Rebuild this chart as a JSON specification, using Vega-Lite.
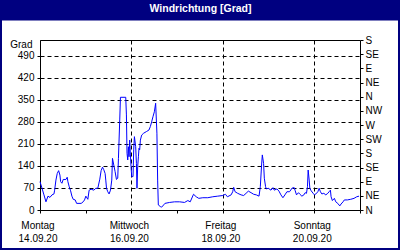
{
  "$schema": "https://vega.github.io/schema/vega-lite/v6.json",
  "background": "#000080",
  "autosize": {"type": "none"},
  "padding": {"left": 40, "top": 40, "right": 40, "bottom": 40},
  "width": 320,
  "height": 170,
  "config": {
    "font": "Liberation Sans",
    "axis": {
      "labelFont": "Liberation Sans",
      "labelFontSize": 10,
      "labelColor": "black",
      "tickColor": "black",
      "tickSize": 3,
      "domain": true,
      "domainColor": "black",
      "domainWidth": 1,
      "gridColor": "black",
      "gridDash": [4, 3],
      "gridOpacity": 1,
      "gridWidth": 1
    },
    "view": {"fill": "white", "stroke": "white", "strokeWidth": 76}
  },
  "data": {"values": [
    {"t": "2020-09-14T00:00", "v": 90},
    {"t": "2020-09-14T01:03", "v": 69},
    {"t": "2020-09-14T02:05", "v": 48},
    {"t": "2020-09-14T03:08", "v": 26},
    {"t": "2020-09-14T04:11", "v": 44},
    {"t": "2020-09-14T05:14", "v": 40},
    {"t": "2020-09-14T06:17", "v": 48},
    {"t": "2020-09-14T07:20", "v": 51},
    {"t": "2020-09-14T07:41", "v": 63},
    {"t": "2020-09-14T08:22", "v": 95},
    {"t": "2020-09-14T09:03", "v": 116},
    {"t": "2020-09-14T09:47", "v": 125},
    {"t": "2020-09-14T10:28", "v": 111},
    {"t": "2020-09-14T10:50", "v": 90},
    {"t": "2020-09-14T11:31", "v": 85},
    {"t": "2020-09-14T12:11", "v": 97},
    {"t": "2020-09-14T13:37", "v": 97},
    {"t": "2020-09-14T14:17", "v": 104},
    {"t": "2020-09-14T14:39", "v": 90},
    {"t": "2020-09-14T15:20", "v": 74},
    {"t": "2020-09-14T16:04", "v": 61},
    {"t": "2020-09-14T16:45", "v": 44},
    {"t": "2020-09-14T17:26", "v": 34},
    {"t": "2020-09-14T18:28", "v": 32},
    {"t": "2020-09-14T19:13", "v": 21},
    {"t": "2020-09-14T21:37", "v": 21},
    {"t": "2020-09-14T22:40", "v": 26},
    {"t": "2020-09-14T23:23", "v": 32},
    {"t": "2020-09-15T00:04", "v": 44},
    {"t": "2020-09-15T01:07", "v": 34},
    {"t": "2020-09-15T01:48", "v": 63},
    {"t": "2020-09-15T02:51", "v": 66},
    {"t": "2020-09-15T04:16", "v": 63},
    {"t": "2020-09-15T05:19", "v": 69},
    {"t": "2020-09-15T06:21", "v": 69},
    {"t": "2020-09-15T07:24", "v": 98},
    {"t": "2020-09-15T08:05", "v": 125},
    {"t": "2020-09-15T08:49", "v": 136},
    {"t": "2020-09-15T09:29", "v": 128},
    {"t": "2020-09-15T10:11", "v": 116},
    {"t": "2020-09-15T10:32", "v": 95},
    {"t": "2020-09-15T10:55", "v": 69},
    {"t": "2020-09-15T11:35", "v": 58},
    {"t": "2020-09-15T12:16", "v": 51},
    {"t": "2020-09-15T13:00", "v": 63},
    {"t": "2020-09-15T13:41", "v": 95},
    {"t": "2020-09-15T14:03", "v": 164},
    {"t": "2020-09-15T14:44", "v": 143},
    {"t": "2020-09-15T15:25", "v": 122},
    {"t": "2020-09-15T16:08", "v": 97},
    {"t": "2020-09-15T16:49", "v": 101},
    {"t": "2020-09-15T17:11", "v": 164},
    {"t": "2020-09-15T17:52", "v": 286},
    {"t": "2020-09-15T18:14", "v": 358},
    {"t": "2020-09-15T21:01", "v": 358},
    {"t": "2020-09-15T21:22", "v": 302},
    {"t": "2020-09-15T21:41", "v": 180},
    {"t": "2020-09-15T22:04", "v": 159},
    {"t": "2020-09-15T22:25", "v": 201},
    {"t": "2020-09-15T22:44", "v": 169},
    {"t": "2020-09-15T23:06", "v": 222},
    {"t": "2020-09-15T23:28", "v": 175},
    {"t": "2020-09-15T23:47", "v": 138},
    {"t": "2020-09-16T00:09", "v": 106},
    {"t": "2020-09-16T00:50", "v": 106},
    {"t": "2020-09-16T01:12", "v": 191},
    {"t": "2020-09-16T01:34", "v": 233},
    {"t": "2020-09-16T02:14", "v": 201},
    {"t": "2020-09-16T02:37", "v": 148},
    {"t": "2020-09-16T02:55", "v": 69},
    {"t": "2020-09-16T03:17", "v": 138},
    {"t": "2020-09-16T03:40", "v": 169},
    {"t": "2020-09-16T03:58", "v": 196},
    {"t": "2020-09-16T04:20", "v": 191},
    {"t": "2020-09-16T04:42", "v": 222},
    {"t": "2020-09-16T05:23", "v": 238},
    {"t": "2020-09-16T06:26", "v": 244},
    {"t": "2020-09-16T07:50", "v": 249},
    {"t": "2020-09-16T09:12", "v": 254},
    {"t": "2020-09-16T09:56", "v": 265},
    {"t": "2020-09-16T10:37", "v": 280},
    {"t": "2020-09-16T11:18", "v": 296},
    {"t": "2020-09-16T12:02", "v": 312},
    {"t": "2020-09-16T12:43", "v": 339},
    {"t": "2020-09-16T13:23", "v": 244},
    {"t": "2020-09-16T13:46", "v": 95},
    {"t": "2020-09-16T14:07", "v": 16},
    {"t": "2020-09-16T15:10", "v": 11},
    {"t": "2020-09-16T15:51", "v": 9},
    {"t": "2020-09-16T16:54", "v": 16},
    {"t": "2020-09-16T17:35", "v": 21},
    {"t": "2020-09-16T20:02", "v": 24},
    {"t": "2020-09-16T22:39", "v": 26},
    {"t": "2020-09-17T01:16", "v": 26},
    {"t": "2020-09-17T03:53", "v": 24},
    {"t": "2020-09-17T05:37", "v": 30},
    {"t": "2020-09-17T06:52", "v": 26},
    {"t": "2020-09-17T08:36", "v": 50},
    {"t": "2020-09-17T10:01", "v": 42},
    {"t": "2020-09-17T11:22", "v": 37},
    {"t": "2020-09-17T13:28", "v": 39},
    {"t": "2020-09-17T16:05", "v": 39},
    {"t": "2020-09-17T18:42", "v": 42},
    {"t": "2020-09-17T21:19", "v": 44},
    {"t": "2020-09-17T23:56", "v": 46},
    {"t": "2020-09-18T01:21", "v": 50},
    {"t": "2020-09-18T02:23", "v": 42},
    {"t": "2020-09-18T04:20", "v": 48},
    {"t": "2020-09-18T05:10", "v": 58},
    {"t": "2020-09-18T05:41", "v": 72},
    {"t": "2020-09-18T06:25", "v": 58},
    {"t": "2020-09-18T07:47", "v": 53},
    {"t": "2020-09-18T09:34", "v": 48},
    {"t": "2020-09-18T10:55", "v": 46},
    {"t": "2020-09-18T12:11", "v": 53},
    {"t": "2020-09-18T13:23", "v": 60},
    {"t": "2020-09-18T14:48", "v": 55},
    {"t": "2020-09-18T16:10", "v": 50},
    {"t": "2020-09-18T17:34", "v": 48},
    {"t": "2020-09-18T18:59", "v": 44},
    {"t": "2020-09-18T19:40", "v": 74},
    {"t": "2020-09-18T20:20", "v": 143},
    {"t": "2020-09-18T20:43", "v": 175},
    {"t": "2020-09-18T21:23", "v": 148},
    {"t": "2020-09-18T21:46", "v": 101},
    {"t": "2020-09-18T22:26", "v": 74},
    {"t": "2020-09-18T22:48", "v": 67},
    {"t": "2020-09-18T23:51", "v": 69},
    {"t": "2020-09-19T01:16", "v": 63},
    {"t": "2020-09-19T02:19", "v": 71},
    {"t": "2020-09-19T02:59", "v": 63},
    {"t": "2020-09-19T04:24", "v": 67},
    {"t": "2020-09-19T05:27", "v": 60},
    {"t": "2020-09-19T06:30", "v": 48},
    {"t": "2020-09-19T07:32", "v": 39},
    {"t": "2020-09-19T08:35", "v": 48},
    {"t": "2020-09-19T09:38", "v": 58},
    {"t": "2020-09-19T11:00", "v": 58},
    {"t": "2020-09-19T12:25", "v": 70},
    {"t": "2020-09-19T13:28", "v": 71},
    {"t": "2020-09-19T13:59", "v": 61},
    {"t": "2020-09-19T14:40", "v": 48},
    {"t": "2020-09-19T15:43", "v": 55},
    {"t": "2020-09-19T16:27", "v": 50},
    {"t": "2020-09-19T17:29", "v": 44},
    {"t": "2020-09-19T18:32", "v": 48},
    {"t": "2020-09-19T19:13", "v": 55},
    {"t": "2020-09-19T19:54", "v": 53},
    {"t": "2020-09-19T20:25", "v": 74},
    {"t": "2020-09-19T20:47", "v": 127},
    {"t": "2020-09-19T21:19", "v": 95},
    {"t": "2020-09-19T21:40", "v": 69},
    {"t": "2020-09-19T22:21", "v": 61},
    {"t": "2020-09-19T23:24", "v": 53},
    {"t": "2020-09-20T00:05", "v": 48},
    {"t": "2020-09-20T00:49", "v": 51},
    {"t": "2020-09-20T01:52", "v": 58},
    {"t": "2020-09-20T02:33", "v": 69},
    {"t": "2020-09-20T03:14", "v": 58},
    {"t": "2020-09-20T03:58", "v": 51},
    {"t": "2020-09-20T05:00", "v": 53},
    {"t": "2020-09-20T06:03", "v": 48},
    {"t": "2020-09-20T07:06", "v": 53},
    {"t": "2020-09-20T07:46", "v": 58},
    {"t": "2020-09-20T08:28", "v": 63},
    {"t": "2020-09-20T08:49", "v": 42},
    {"t": "2020-09-20T09:30", "v": 30},
    {"t": "2020-09-20T10:33", "v": 37},
    {"t": "2020-09-20T11:17", "v": 26},
    {"t": "2020-09-20T12:20", "v": 21},
    {"t": "2020-09-20T13:23", "v": 13},
    {"t": "2020-09-20T14:03", "v": 19},
    {"t": "2020-09-20T15:06", "v": 26},
    {"t": "2020-09-20T15:47", "v": 32},
    {"t": "2020-09-20T17:21", "v": 32},
    {"t": "2020-09-20T19:08", "v": 34},
    {"t": "2020-09-20T20:52", "v": 37},
    {"t": "2020-09-20T22:16", "v": 42},
    {"t": "2020-09-20T23:30", "v": 44}
  ]},
  "layer": [
    {
      "mark": {"type": "line", "color": "#0000ff", "strokeWidth": 1},
      "encoding": {
        "x": {
          "field": "t",
          "type": "temporal",
          "scale": {"domain": [{"year": 2020, "month": 9, "date": 14}, {"year": 2020, "month": 9, "date": 21}], "nice": false},
          "axis": {
            "orient": "bottom",
            "title": null,
            "values": [
              {"year": 2020, "month": 9, "date": 14},
              {"year": 2020, "month": 9, "date": 15},
              {"year": 2020, "month": 9, "date": 16},
              {"year": 2020, "month": 9, "date": 17},
              {"year": 2020, "month": 9, "date": 18},
              {"year": 2020, "month": 9, "date": 19},
              {"year": 2020, "month": 9, "date": 20},
              {"year": 2020, "month": 9, "date": 21}
            ],
            "labelExpr": "date(datum.value) % 2 == 0 ? [['Sonntag','Montag','Dienstag','Mittwoch','Donnerstag','Freitag','Samstag'][day(datum.value)], timeFormat(datum.value, '%d.%m.%y')] : ''",
            "labelFlush": false,
            "labelOverlap": false,
            "labelOffset": -2.5,
            "labelLineHeight": 13,
            "labelPadding": 7,
            "grid": true,
            "gridOpacity": {"condition": {"test": "date(datum.value) % 2 == 1", "value": 0}, "value": 1}
          }
        },
        "y": {
          "field": "v",
          "type": "quantitative",
          "scale": {"domain": [0, 540], "nice": false},
          "axis": {
            "orient": "left",
            "values": [0, 70, 140, 210, 280, 350, 420, 490, 540],
            "labelExpr": "datum.value == 540 ? '' : datum.label",
            "tickOpacity": {"condition": {"test": "datum.value == 540", "value": 0}, "value": 1},
            "gridDash": {"condition": {"test": "datum.value == 540", "value": []}, "value": [4, 3]},
            "grid": true,
            "labelPadding": 3,
            "title": "Grad",
            "titleAngle": 0,
            "titleAlign": "right",
            "titleBaseline": "alphabetic",
            "titleX": -8,
            "titleY": 7.5,
            "titleFont": "Liberation Sans",
            "titleFontSize": 10,
            "titleFontWeight": "normal",
            "titleColor": "black"
          }
        }
      }
    },
    {
      "mark": {"type": "line", "color": "#0000ff", "strokeWidth": 1, "opacity": 0},
      "encoding": {
        "x": {"field": "t", "type": "temporal", "axis": null},
        "y": {
          "field": "v",
          "type": "quantitative",
          "scale": {"domain": [0, 540], "nice": false},
          "axis": {
            "orient": "right",
            "values": [0, 45, 90, 135, 180, 225, 270, 315, 360, 405, 450, 495, 540],
            "labelExpr": "['N','NE','E','SE','S','SW','W','NW'][round(datum.value / 45) % 8]",
            "grid": false,
            "labelPadding": 2,
            "title": null
          }
        }
      }
    },
    {
      "mark": {"type": "line", "color": "#0000ff", "strokeWidth": 1, "opacity": 0},
      "encoding": {
        "x": {
          "field": "t",
          "type": "temporal",
          "scale": {"domain": [{"year": 2020, "month": 9, "date": 14}, {"year": 2020, "month": 9, "date": 21}], "nice": false},
          "axis": {
            "orient": "top",
            "offset": 20,
            "values": [{"year": 2020, "month": 9, "date": 17, "hours": 12}],
            "labels": false,
            "domain": false,
            "grid": false,
            "ticks": true,
            "tickSize": 20,
            "tickWidth": 400,
            "tickCap": "butt",
            "tickColor": "#000080",
            "title": "Windrichtung [Grad]",
            "titleX": 160,
            "titleY": -8.5,
            "titleAlign": "center",
            "titleBaseline": "alphabetic",
            "titleAngle": 0,
            "titleColor": "white",
            "titleFont": "Liberation Sans",
            "titleFontSize": 10.5,
            "titleFontWeight": "bold"
          }
        },
        "y": {"field": "v", "type": "quantitative", "axis": null}
      }
    }
  ],
  "resolve": {"axis": {"x": "independent", "y": "independent"}}
}
